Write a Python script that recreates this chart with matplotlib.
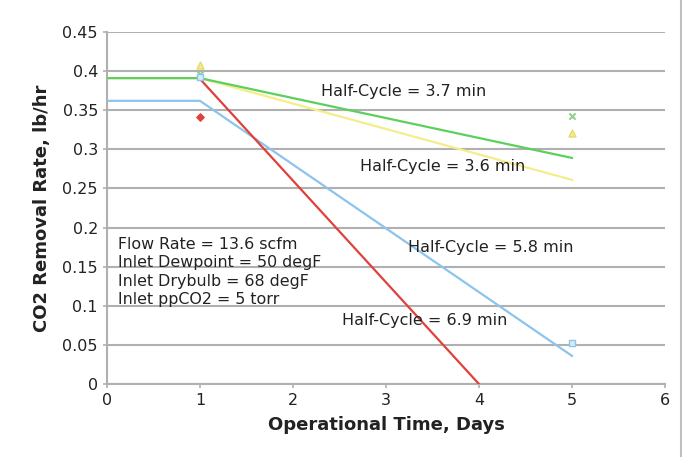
import matplotlib
matplotlib.use("Agg")
import matplotlib.pyplot as plt
from matplotlib.lines import Line2D

# Fitted trend lines
green_x = [0, 1, 5]
green_y = [0.391, 0.391, 0.289]
yellow_x = [0, 1, 5]
yellow_y = [0.391, 0.391, 0.261]
blue_x = [0, 1, 5]
blue_y = [0.362, 0.362, 0.036]
red_x = [1, 4]
red_y = [0.39, 0.0]

# Measured points
green_px = [1, 5]
green_py = [0.396, 0.342]
yellow_px = [1, 5]
yellow_py = [0.408, 0.321]
blue_px = [1, 5]
blue_py = [0.393, 0.052]
red_px = [1]
red_py = [0.341]

labels = ["Half-Cycle = 3.7 min", "Half-Cycle = 3.6 min",
          "Half-Cycle = 5.8 min", "Half-Cycle = 6.9 min"]
label_x = [2.3, 2.72, 3.24, 2.53]
label_y = [0.374, 0.278, 0.175, 0.081]

info_lines = ["Flow Rate = 13.6 scfm", "Inlet Dewpoint = 50 degF",
              "Inlet Drybulb = 68 degF", "Inlet ppCO2 = 5 torr"]
info_y = [0.178, 0.155, 0.131, 0.108]

green = "#5ccf5c"
yellow = "#f4ee8a"
blue = "#8cc4ec"
red = "#e0413a"
gridc = "#b0b0b0"

fig = plt.figure(figsize=(6.88, 4.57), dpi=100)
ax = fig.add_axes([0.1555, 0.1597, 0.811, 0.7703])

ax.plot(yellow_x, yellow_y, color=yellow, lw=1.6, zorder=3)
ax.plot(green_x, green_y, color=green, lw=1.6, zorder=4)
ax.plot(blue_x, blue_y, color=blue, lw=1.6, zorder=3)
ax.plot(red_x, red_y, color=red, lw=1.6, zorder=5)

ax.scatter(yellow_px, yellow_py, marker="^", color="#f4ee8a", edgecolor="#e8d870", s=25, zorder=6)
ax.scatter(green_px, green_py, marker="x", color="#8fd08f", s=20, zorder=6)
ax.scatter(blue_px, blue_py, marker="s", facecolor="#d8ecf8", edgecolor="#8cc4ec", s=25, zorder=6)
ax.scatter(red_px, red_py, marker="D", color=red, s=14, zorder=6)

for t, x, y in zip(labels, label_x, label_y):
    ax.text(x, y, t, fontsize=11.5, ha="left", va="center", color="#222222", zorder=7)

for t, y in zip(info_lines, info_y):
    ax.text(0.12, y, t, fontsize=11.4, ha="left", va="center", color="#222222", zorder=7)

ax.set_xlim(0, 6)
ax.set_ylim(0, 0.45)
ax.set_xticks(range(0, 7))
ax.set_yticks([0, 0.05, 0.1, 0.15, 0.2, 0.25, 0.3, 0.35, 0.4, 0.45])
ax.set_yticklabels(["0", "0.05", "0.1", "0.15", "0.2", "0.25", "0.3", "0.35", "0.4", "0.45"])
ax.yaxis.grid(True, color=gridc, lw=1.5)
ax.set_axisbelow(True)
for s in ["top", "right"]:
    ax.spines[s].set_visible(False)
ax.spines["left"].set_color(gridc)
ax.spines["bottom"].set_color(gridc)
ax.spines["left"].set_linewidth(1.5)
ax.spines["bottom"].set_linewidth(1.5)
ax.tick_params(axis="both", labelsize=11.5, color=gridc, length=3, width=1.2, labelcolor="#222222")

ax.set_xlabel("Operational Time, Days", fontsize=13, fontweight="bold", labelpad=6, color="#222222")
ax.set_ylabel("CO2 Removal Rate, lb/hr", fontsize=13, fontweight="bold", labelpad=8, color="#222222")

fig.add_artist(Line2D([681/688, 681/688], [0, 1], transform=fig.transFigure, color="#c0c0c0", lw=1.5))

fig.savefig("out.png", dpi=100)
